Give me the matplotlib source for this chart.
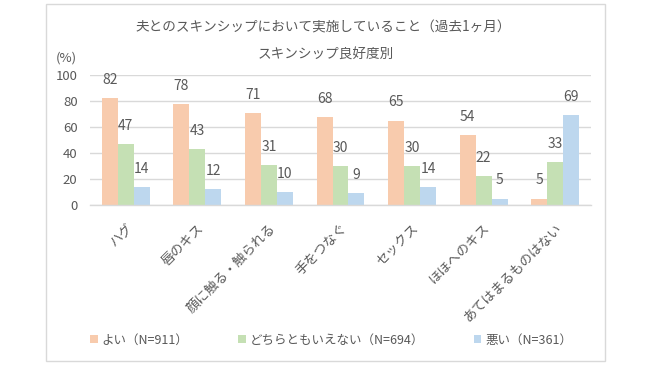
import matplotlib
matplotlib.use('Agg')
import matplotlib.pyplot as plt
from matplotlib.patches import Rectangle
import numpy as np

plt.rcParams['font.family'] = ['Noto Sans CJK JP', 'DejaVu Sans']

# データ
categories = ['ハグ', '唇のキス', '顔に触る・触られる', '手をつなぐ',
              'セックス', 'ほほへのキス', 'あてはまるものはない']
good = [82, 78, 71, 68, 65, 54, 5]
neutral = [47, 43, 31, 30, 30, 22, 33]
bad = [14, 12, 10, 9, 14, 5, 69]
series_names = ['よい（N=911）', 'どちらともいえない（N=694）', '悪い（N=361）']
colors = ['#F8CBAD', '#C5E0B4', '#BDD7EE']

text_color = '#595959'
grid_color = '#D9D9D9'

fig = plt.figure(figsize=(6.5, 3.65), dpi=100)
ax = fig.add_axes([90 / 650, 1 - 205 / 365, 501 / 650, 130 / 365])

x = np.arange(len(categories))
w = 0.223
bars = []
for i, (vals, c) in enumerate(zip([good, neutral, bad], colors)):
    b = ax.bar(x + (i - 1) * w, vals, width=w, color=c, zorder=2,
               label=series_names[i])
    bars.append(b)
    for xi, v in zip(x + (i - 1) * w, vals):
        ax.annotate(str(v), (xi, v), xytext=(0, 13), textcoords='offset points',
                    ha='center', va='center', fontsize=10, color=text_color)

ax.set_xlim(-0.5, len(categories) - 0.5)
ax.set_ylim(0, 100)
ax.set_yticks(range(0, 101, 20))
ax.yaxis.grid(True, color=grid_color, linewidth=1, zorder=0)
for s in ['top', 'right', 'left']:
    ax.spines[s].set_visible(False)
ax.spines['bottom'].set_color(grid_color)
ax.spines['bottom'].set_linewidth(1)
ax.tick_params(axis='y', length=0, pad=9, labelsize=9.5, labelcolor=text_color)
ax.tick_params(axis='x', length=0, pad=12, labelsize=9.5, labelcolor=text_color)
ax.set_xticks(x)
ax.set_xticklabels(categories, rotation=45, ha='right', va='top',
                   rotation_mode='anchor')

# タイトル
fig.text(323 / 650, 1 - 28 / 365, '夫とのスキンシップにおいて実施していること（過去1ヶ月）',
         ha='center', va='center', fontsize=9.8, color=text_color)
fig.text(326 / 650, 1 - 55 / 365, 'スキンシップ良好度別',
         ha='center', va='center', fontsize=9.8, color=text_color)
fig.text(66 / 650, 1 - 58 / 365, '(%)', ha='center', va='center',
         fontsize=9.5, color=text_color)

# 凡例
fig.legend(handles=bars, loc='center', bbox_to_anchor=(331 / 650, 1 - 340 / 365),
           ncol=3, frameon=False, fontsize=9, labelcolor=text_color,
           handlelength=0.6, handleheight=0.6, handletextpad=0.3,
           columnspacing=4)

# 外枠
fig.patches.append(Rectangle((46 / 650, 4 / 365), 559 / 650, 357 / 365,
                             transform=fig.transFigure, fill=False,
                             edgecolor=grid_color, linewidth=1))

fig.savefig('out.png', dpi=100)
